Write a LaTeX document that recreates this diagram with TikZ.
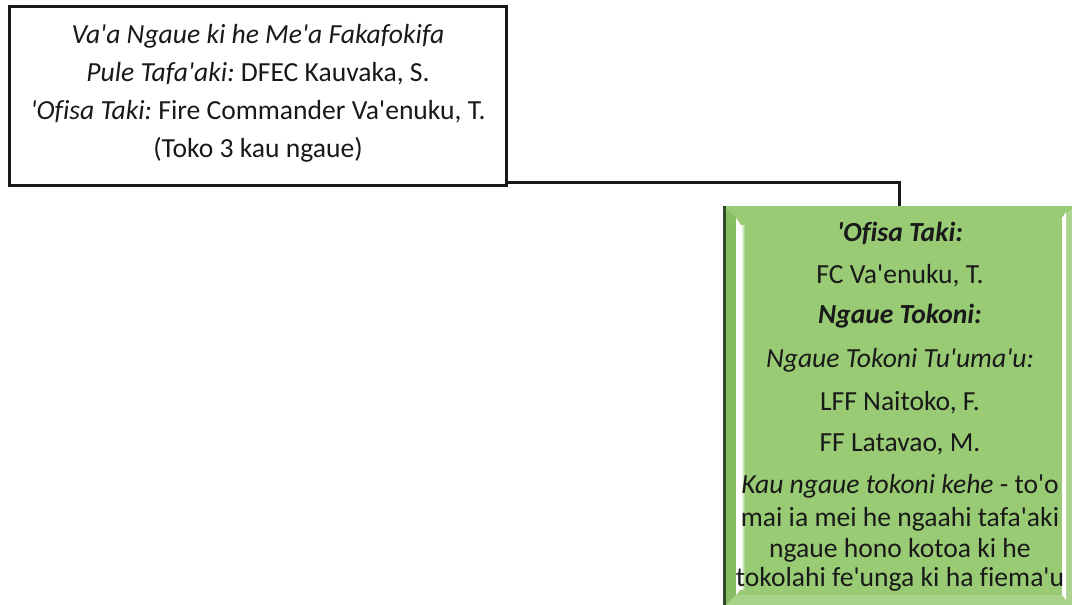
\documentclass[tikz,border=0pt]{standalone}
\usepackage{fontspec}
\newfontfamily\carl{Carlito}[Ligatures=NoCommon]
\definecolor{gface}{HTML}{98CB74}
\definecolor{gleft}{HTML}{86BC62}
\definecolor{gdark}{HTML}{2E4A2A}
\begin{document}
\begin{tikzpicture}[x=1pt,y=-1pt,
  txt/.style={anchor=base,inner sep=0pt,font=\carl\fontsize{27.6}{32}\selectfont,text=black!90},
  conn/.style={line width=3pt,draw=black!90}]
\useasboundingbox (0,0) rectangle (1072,605);
% white box
\node[draw=black!90,line width=3pt,fill=white,minimum width=497pt,minimum height=179pt,inner sep=0pt] (wbox) at (257.5,95.5) {};
% green bevel box
\node[fill=gface,minimum width=352pt,minimum height=402pt,inner sep=0pt] (gbox) at (899,407) {};
\fill[gleft] (723,206) -- (736,218) -- (736,595) -- (723,608) -- cycle;
\fill[gface!80!white] (1075,206) -- (1062,218) -- (1062,595) -- (1075,608) -- cycle;
\fill[gface!85!white] (723,608) -- (736,595) -- (1062,595) -- (1075,608) -- cycle;
\fill[white] (736,218) -- (741,225) -- (741,589) -- (736,595) -- cycle;
\shade[left color=white,right color=gface] (741,225) rectangle (745,589);
\fill[white] (1062,218) -- (1066,212) -- (1066,600) -- (1062,595) -- cycle;
\draw[gdark,line width=2.5pt] (724.5,206) -- (724.5,608);
% connector
\draw[conn] ([yshift=4pt]wbox.south east) -| (gbox.north);
% white box text
\node[txt] (w1) at (258,43) {\itshape Va'a Ngaue ki he Me'a Fakafokifa};
\node[txt] (w2) at (258,81) {\itshape Pule Tafa'aki:\upshape\ DFEC Kauvaka, S.};
\node[txt] (w3) at (258,119) {\itshape 'Ofisa Taki:\upshape\ Fire Commander Va'enuku, T.};
\node[txt] (w4) at (258,157) {(Toko 3 kau ngaue)};
% green box text
\node[txt] (g1) at (900,241) {\bfseries\itshape 'Ofisa Taki:};
\node[txt] (g2) at (900,283) {FC Va'enuku, T.};
\node[txt] (g3) at (900,323) {\bfseries\itshape Ngaue Tokoni:};
\node[txt] (g4) at (900,367) {\itshape Ngaue Tokoni Tu'uma'u:};
\node[txt] (g5) at (900,410) {LFF Naitoko, F.};
\node[txt] (g6) at (900,451) {FF Latavao, M.};
\node[txt] (g7) at (900,493) {\itshape Kau ngaue tokoni kehe\upshape\ - to'o};
\node[txt] (g8) at (900,526) {mai ia mei he ngaahi tafa'aki};
\node[txt] (g9) at (900,557) {ngaue hono kotoa ki he};
\node[txt] (g10) at (900,586) {tokolahi fe'unga ki ha fiema'u};
\end{tikzpicture}
\end{document}
